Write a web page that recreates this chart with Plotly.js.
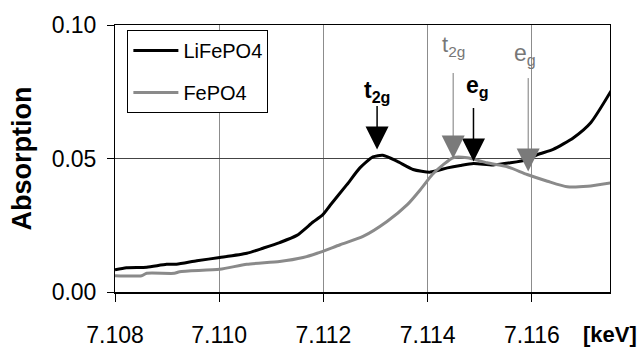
<!DOCTYPE html>
<html>
<head>
<meta charset="utf-8">
<script src="https://cdn.plot.ly/plotly-3.0.1.min.js"></script>
<style>html,body{margin:0;padding:0;background:#fff;}#chart{width:640px;height:349px;}</style>
</head>
<body>
<div id="chart"></div>
<script>
// LiFePO4 spectrum
const liX = [7.1080, 7.10822, 7.10861, 7.10899, 7.10918, 7.10957, 7.11001, 7.11053, 7.11084, 7.11116, 7.11149, 7.1118, 7.11199, 7.11213, 7.11245, 7.1127, 7.11295, 7.11314, 7.11341, 7.11372, 7.11405, 7.11438, 7.11463, 7.11488, 7.11526, 7.11559, 7.11591, 7.11611, 7.11641, 7.1168, 7.11713, 7.11752];
const liY = [0.0083, 0.0091, 0.0093, 0.0104, 0.0104, 0.0117, 0.0129, 0.0145, 0.0164, 0.0185, 0.0212, 0.0262, 0.0290, 0.0325, 0.0402, 0.0465, 0.0506, 0.0512, 0.0490, 0.0459, 0.0449, 0.0465, 0.0474, 0.0481, 0.0476, 0.0484, 0.0496, 0.0515, 0.0534, 0.0578, 0.0634, 0.0753];
// FePO4 spectrum
const feX = [7.1080, 7.10851, 7.10861, 7.10914, 7.10924, 7.11001, 7.11053, 7.11116, 7.11161, 7.11188, 7.11232, 7.11276, 7.11322, 7.11361, 7.11386, 7.11409, 7.1143, 7.11449, 7.11476, 7.11514, 7.11553, 7.11591, 7.1163, 7.11668, 7.11707, 7.11752];
const feY = [0.0061, 0.0061, 0.0070, 0.0070, 0.0076, 0.0085, 0.0104, 0.0114, 0.0129, 0.0145, 0.0177, 0.0208, 0.0264, 0.0327, 0.0383, 0.0440, 0.0477, 0.0503, 0.0503, 0.0484, 0.0469, 0.0440, 0.0415, 0.0394, 0.0396, 0.0409];
// x tick values / labels
const xTicks = [7.108, 7.110, 7.112, 7.114, 7.116];
const xTickText = ["7.108", "7.110", "7.112", "7.114", "7.116"];
const yTicks = [0.00, 0.05, 0.10];
const yTickText = ["0.00", "0.05", "0.10"];
// peak markers: [x tip, y tip, x label, y label]
const liT2g = [7.11303, 0.0534, 7.11303, 0.0752];
const liEg  = [7.11488, 0.0489, 7.11495, 0.0771];
const feT2g = [7.11449, 0.0500, 7.11449, 0.0921];
const feEg  = [7.11593, 0.0451, 7.11586, 0.0891];

const FONT = "Liberation Sans, Arial, sans-serif";

const traces = [
  {x: liX, y: liY, mode: "lines", name: "LiFePO4", legendgroup: "a",
   line: {color: "#000", width: 3, shape: "spline", smoothing: 0.6}},
  {x: feX, y: feY, mode: "lines", name: "FePO4", legendgroup: "b",
   line: {color: "#8a8a8a", width: 3, shape: "spline", smoothing: 0.6}}
];

function arrow(p, len, color, width) {
  return {x: p[0], y: p[1], xref: "x", yref: "y", text: "", showarrow: true,
    ax: 0, ay: -len, arrowhead: 2, arrowwidth: width, arrowsize: 4.6 / width,
    arrowcolor: color};
}
function label(p, txt, color, size) {
  return {x: p[2], y: p[3], xref: "x", yref: "y", text: txt, showarrow: false,
    font: {family: FONT, size: size, color: color}, xanchor: "center", yanchor: "middle"};
}

const layout = {
  width: 640, height: 349,
  margin: {l: 115, r: 30, t: 25, b: 57},
  paper_bgcolor: "#fff", plot_bgcolor: "#fff",
  font: {family: FONT, color: "#000"},
  showlegend: true,
  legend: {x: 0.025, y: 0.981, xanchor: "left", yanchor: "top",
    bgcolor: "#fff", bordercolor: "#000", borderwidth: 1,
    font: {family: FONT, size: 20, color: "#000"},
    traceorder: "grouped", tracegroupgap: 13, itemwidth: 45},
  xaxis: {range: [7.108, 7.1175], tickvals: xTicks, ticktext: xTickText,
    showgrid: true, gridcolor: "#8c8c8c", gridwidth: 1,
    showline: true, linecolor: "#000", linewidth: 1.5, mirror: true,
    ticks: "outside", ticklen: 8, tickcolor: "#000",
    tickfont: {family: FONT, size: 23, color: "#000"}, ticklabelstandoff: 14,
    zeroline: false, fixedrange: true},
  yaxis: {range: [0, 0.10], tickvals: yTicks, ticktext: yTickText,
    showgrid: true, gridcolor: "#444", gridwidth: 1.5,
    showline: true, linecolor: "#000", linewidth: 1, mirror: true,
    ticks: "outside", ticklen: 7, tickcolor: "#000",
    tickfont: {family: FONT, size: 23, color: "#000"}, ticklabelstandoff: 6,
    title: {text: "<b>Absorption</b>", font: {family: FONT, size: 27, color: "#000"}, standoff: 12},
    zeroline: false, fixedrange: true},
  annotations: [
    arrow(liT2g, 45, "#000", 1.5),
    arrow(liEg, 55, "#000", 1.5),
    arrow(feT2g, 87, "#7a7a7a", 1),
    arrow(feEg, 95, "#7a7a7a", 1),
    label(liT2g, "<b>t<sub>2g</sub></b>", "#000", 23),
    label(liEg, "<b>e<sub>g</sub></b>", "#000", 23),
    label(feT2g, "t<sub>2g</sub>", "#777", 22),
    label(feEg, "e<sub>g</sub>", "#777", 23),
    {x: 1, y: 0, xref: "paper", yref: "paper", xanchor: "center", yanchor: "middle",
     yshift: -42, borderpad: 0, text: "<b>[keV]</b>", showarrow: false,
     font: {family: FONT, size: 22, color: "#000"}}
  ]
};

Plotly.newPlot("chart", traces, layout, {displayModeBar: false, staticPlot: true});
</script>
</body>
</html>
